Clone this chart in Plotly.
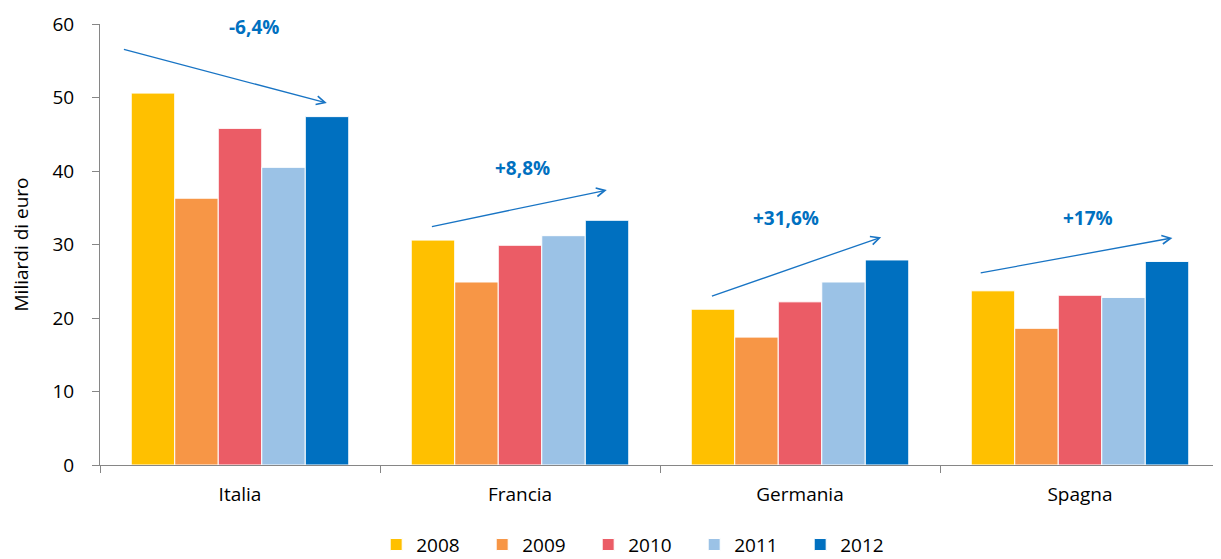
import plotly.graph_objects as go

countries = ["Italia", "Francia", "Germania", "Spagna"]
years = ["2008", "2009", "2010", "2011", "2012"]
values = {
    "2008": [50.6, 30.6, 21.2, 23.7],
    "2009": [36.3, 24.9, 17.4, 18.6],
    "2010": [45.8, 29.9, 22.2, 23.1],
    "2011": [40.5, 31.2, 24.9, 22.8],
    "2012": [47.4, 33.3, 27.9, 27.7],
}
changes = ["-6,4%", "+8,8%", "+31,6%", "+17%"]

colors = ["#FFC000", "#F79646", "#EB5C66", "#9BC2E6", "#0070C0"]
FONT = "Open Sans"

fig = go.Figure()
for yr, c in zip(years, colors):
    fig.add_trace(go.Bar(
        x=countries, y=values[yr], name=yr,
        marker=dict(color=c, line=dict(color="white", width=1)),
    ))

# arrow geometry (tail x, tail y, head x, head y) and label positions
arrows = [(-0.42, 56.6, 0.31, 49.25), (0.68, 32.4, 1.31, 37.4),
          (1.68, 22.9, 2.29, 31.0), (2.64, 26.1, 3.33, 30.9)]
labels = [(0.05, 59.6), (1.01, 40.4), (1.95, 33.6), (3.03, 33.6)]

annotations = []
for (tx, ty, hx, hy), (lx, ly), txt in zip(arrows, labels, changes):
    annotations.append(dict(
        x=hx, y=hy, ax=tx, ay=ty, xref="x", yref="y", axref="x", ayref="y",
        text="", showarrow=True, arrowhead=5, arrowsize=1.3, arrowwidth=1.3,
        arrowcolor="#1874C4", standoff=0, startstandoff=0,
    ))
    annotations.append(dict(
        x=lx, y=ly, xref="x", yref="y", text="<b>%s</b>" % txt, showarrow=False,
        font=dict(size=19, color="#0070C0", family=FONT),
    ))

fig.update_layout(
    width=1213, height=551,
    margin=dict(l=92, r=1, t=16, b=94, autoexpand=False),
    paper_bgcolor="white", plot_bgcolor="white",
    font=dict(family=FONT, size=19, color="#000000"),
    barmode="group", bargap=0.223, bargroupgap=0,
    showlegend=True,
    legend=dict(orientation="h", x=0.522, xref="container", xanchor="center",
                y=0.026, yref="container", yanchor="middle",
                font=dict(size=19), entrywidth=61, entrywidthmode="pixels",
                itemclick=False, tracegroupgap=0),
    annotations=annotations,
)
fig.update_xaxes(
    type="category", range=[-0.5, 3.5], showline=True, linecolor="#868686", linewidth=1,
    ticks="outside", tickson="boundaries", ticklen=7, tickcolor="#868686",
    ticklabelstandoff=12, showgrid=False, zeroline=False, automargin=False,
)
fig.update_yaxes(
    range=[0, 60], dtick=10, showline=True, linecolor="#868686", linewidth=1,
    ticks="outside", ticklen=7, tickcolor="#868686", showgrid=False, zeroline=False,
    title=dict(text="Miliardi di euro", standoff=24, font=dict(size=19)),
    ticklabelstandoff=14, automargin=False,
)

fig.write_html("out.html")
